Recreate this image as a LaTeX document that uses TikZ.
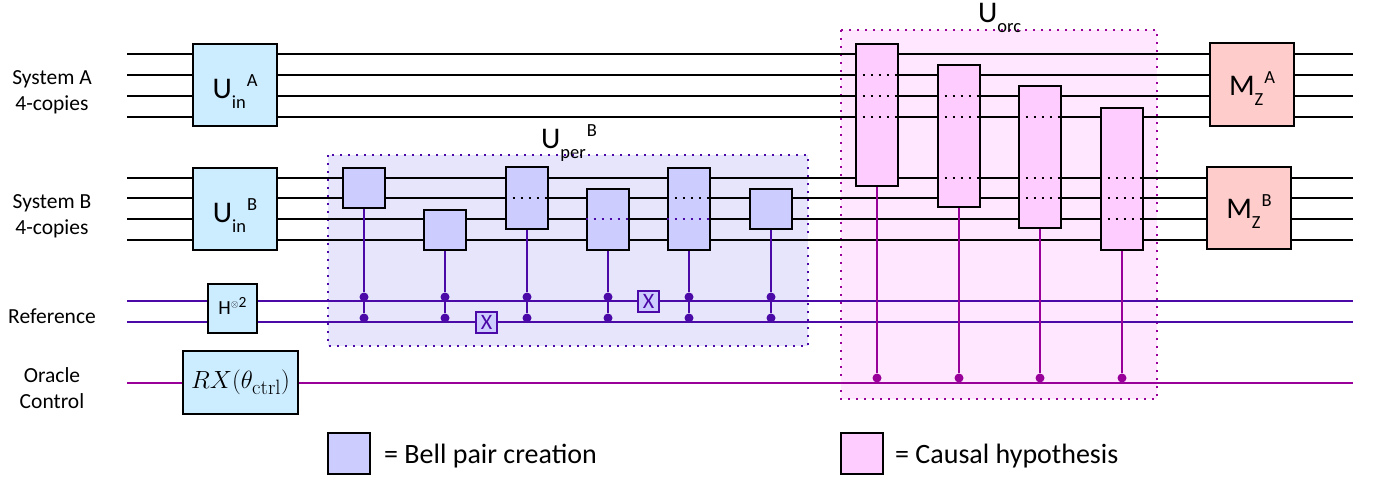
\documentclass[tikz,border=0pt]{standalone}
\usepackage[no-math]{fontspec}
\setmainfont{Carlito}
\definecolor{wirepur}{HTML}{4B0AA8}
\definecolor{wiremag}{HTML}{990099}
\definecolor{inblue}{HTML}{CCECFF}
\definecolor{bellfill}{HTML}{CCCCFF}
\definecolor{bellback}{HTML}{E6E5FC}
\definecolor{causfill}{HTML}{FFCCFF}
\definecolor{causback}{HTML}{FFE8FF}
\definecolor{measfill}{HTML}{FFCCCC}
\tikzset{
  qwire/.style={line width=2pt, black},
  qbox/.style={draw=black, line width=2.6pt, inner sep=0pt, minimum width=#1},
  qbox/.default=42pt,
  inbox/.style={qbox=84pt, fill=inblue, minimum height=82pt},
  measbox/.style={qbox=84pt, fill=measfill},
  bell/.style={qbox, fill=bellfill},
  causal/.style={qbox, fill=causfill, minimum height=142pt},
  xbox/.style={draw=wirepur, line width=2pt, fill=bellfill, text=wirepur, inner sep=0pt, minimum size=21pt, font=\fontsize{22}{22}\selectfont},
  dotb/.style={circle, fill=wirepur, inner sep=0pt, minimum size=9pt},
  dotm/.style={circle, fill=wiremag, inner sep=0pt, minimum size=9pt},
  across/.style={line width=2pt, dash pattern=on 2pt off 6pt},
  sidelabel/.style={align=center, font=\fontsize{21.5}{26}\selectfont},
  legendlabel/.style={anchor=base west, inner sep=0pt, font=\fontsize{28}{30}\selectfont}
}
\newcommand{\gatetext}[4][26pt]{\rule{0pt}{#1}\smash{{\fontsize{30}{30}\selectfont #2}\raisebox{-10pt}{\fontsize{18.5}{18}\selectfont #3}\raisebox{12pt}{\fontsize{18.5}{18}\selectfont\kern1pt #4}}}
\begin{document}
\begin{tikzpicture}[x=1pt,y=-1pt]
\useasboundingbox (0,0) rectangle (1380,479);
% backgrounds
\fill[bellback] (328,155) rectangle (808,346);
\draw[wirepur, line width=1.6pt, dash pattern=on 1.6pt off 6.4pt] (328,155) rectangle (808,346);
\fill[causback] (841,30) rectangle (1157,399);
\draw[wiremag, line width=1.6pt, dash pattern=on 1.6pt off 6.4pt] (841,30) rectangle (1157,399);
% wires
\foreach \name/\y in {aa/54,ab/75,ac/96,ad/117,ba/178,bb/198,bc/219,bd/240}{
  \coordinate (\name l) at (127,\y);
  \coordinate (\name r) at (1353,\y);
  \draw[qwire] (\name l) -- (\name r);
}
\foreach \name/\y in {ra/301,rb/322}{
  \coordinate (\name l) at (127,\y);
  \coordinate (\name r) at (1353,\y);
  \draw[line width=2pt, wirepur] (\name l) -- (\name r);
}
\coordinate (ol) at (127,383);
\coordinate (or) at (1353,383);
\draw[line width=2pt, wiremag] (ol) -- (or);
\coordinate (dotu) at (127,297);
\coordinate (dotd) at (127,318);
\coordinate (dotc) at (127,378);
% input and measurement
\node[inbox] (uina) at (235,85) {\gatetext{U}{in}{A}};
\node[inbox] (uinb) at (235,209) {\gatetext{U}{in}{B}};
\node[qbox=49pt, fill=inblue, minimum height=49pt] (hgate) at (232.5,308.5) {\fontsize{20}{20}\selectfont H\smash{\raisebox{7pt}{\fontsize{10}{10}\selectfont$\otimes$\fontsize{15.5}{15}\selectfont 2}}};
\node[qbox=115pt, fill=inblue, minimum height=63pt, line width=2pt] (rxgate) at (240.5,382.5) {\fontsize{24.88}{28}\selectfont $RX(\theta_{\mathrm{ctrl}})$};
\node[measbox, minimum height=83pt] (mza) at (1252,84.5) {\gatetext[21pt]{M}{Z}{A}};
\node[measbox, minimum height=82pt] (mzb) at (1249,208) {\gatetext[21pt]{M}{Z}{B}};
% bell pair gates
\node[bell, minimum height=40pt] (gone) at (364,188) {};
\node[bell, minimum height=40pt] (gtwo) at (445,230) {};
\node[bell, minimum height=62pt] (gthree) at (527,198) {};
\node[bell, minimum height=61pt] (gfour) at (608,219.5) {};
\node[bell, minimum height=82pt] (gfive) at (689,209) {};
\node[bell, minimum height=40pt] (gsix) at (771,209) {};
\draw[across] (gthree.west |- bbl) -- (gthree.east |- bbl);
\draw[across, wirepur] (gfour.west |- bcl) -- (gfour.east |- bcl);
\draw[across] (gfive.west |- bbl) -- (gfive.east |- bbl);
\draw[across, wirepur] (gfive.west |- bcl) -- (gfive.east |- bcl);
\foreach \g in {gone,gtwo,gthree,gfour,gfive,gsix}{
  \node[dotb] (\g u) at (\g.south |- dotu) {};
  \node[dotb] (\g d) at (\g.south |- dotd) {};
  \draw[wirepur, line width=2pt] (\g.south) -- (\g u);
  \draw[wirepur, line width=1.4pt] (\g u) -- (\g d);
}
\node[xbox] (xone) at (486.5,322.5) {X};
\node[xbox] (xtwo) at (648.5,301.5) {X};
% causal gates
\node[causal] (oone) at (877,115) {};
\node[causal] (otwo) at (959,136) {};
\node[causal] (othree) at (1040,157) {};
\node[causal] (ofour) at (1122,179) {};
\foreach \g/\wa/\wb/\wc in {oone/ab/ac/ad,otwo/ac/ad/ba,othree/ad/ba/bb,ofour/ba/bb/bc}{
  \foreach \w in {\wa,\wb,\wc}
  \draw[across] (\g.west |- \w l) -- (\g.east |- \w l);
  \node[dotm] (\g c) at (\g.south |- dotc) {};
  \draw[wiremag, line width=2pt] (\g.south) -- (\g c);
}
% labels
\node[anchor=base west, inner sep=0pt] (uper) at (541,148) {\gatetext{U}{per}{B}};
\node[anchor=base west, inner sep=0pt] (uorc) at (978,22) {\gatetext{U}{orc}{}};
\node[sidelabel] (syslaba) at (52,92) {System A\\4-copies};
\node[sidelabel] (syslabb) at (52,216) {System B\\4-copies};
\node[sidelabel] (reflab) at (52,316) {Reference};
\node[sidelabel] (oralab) at (52,388) {Oracle\\Control};
% legend
\node[bell, minimum height=41pt] (legbell) at (349,453.5) {};
\node[legendlabel] (legbelltxt) at (384,463) {= Bell pair creation};
\node[qbox, fill=causfill, minimum height=41pt] (legcaus) at (862,453.5) {};
\node[legendlabel] (legcaustxt) at (895,463) {= Causal hypothesis};
\end{tikzpicture}
\end{document}
